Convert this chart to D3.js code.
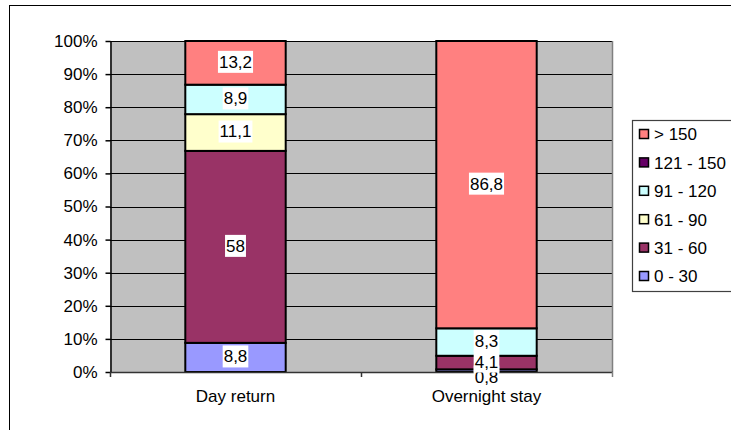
<!DOCTYPE html>
<html>
<head>
<meta charset="utf-8">
<script src="https://cdn.jsdelivr.net/npm/d3@7"></script>
<style>
  html, body { margin: 0; padding: 0; background: #fff; }
  svg { display: block; font-family: "Liberation Sans", Arial, sans-serif; }
</style>
</head>
<body>
<svg id="chart" width="731" height="430"></svg>
<script>
// Trip categories and duration classes (minutes)
const categories = ["Day return", "Overnight stay"];
const seriesNames = ["0 - 30", "31 - 60", "61 - 90", "91 - 120", "121 - 150", "> 150"];
const seriesColors = ["#9999FF", "#993366", "#FFFFCC", "#CCFFFF", "#660066", "#FF8080"];

// Share of trips per duration class (%)
const dayReturn     = [8.8, 58, 11.1, 8.9, 0, 13.2];
const overnightStay = [0.8, 4.1, 0, 8.3, 0, 86.8];

const yTickValues = [0, 10, 20, 30, 40, 50, 60, 70, 80, 90, 100];
const yTickLabels = ["0%", "10%", "20%", "30%", "40%", "50%", "60%", "70%", "80%", "90%", "100%"];

const rows = [dayReturn, overnightStay].map((vals, i) => {
  const r = { category: categories[i] };
  seriesNames.forEach((s, j) => { r[s] = vals[j]; });
  return r;
});

const svg = d3.select("#chart");
const plot = { left: 110, right: 612, top: 41, bottom: 372 };
const fontSize = 17;

// outer chart frame
svg.append("rect")
  .attr("x", 9.5).attr("y", 5.5)
  .attr("width", 900).attr("height", 600)
  .attr("fill", "#fff").attr("stroke", "#000").attr("stroke-width", 1);

const x = d3.scaleBand()
  .domain(categories)
  .range([plot.left, plot.right])
  .paddingInner(0.6)
  .paddingOuter(0.3);

const y = d3.scaleLinear()
  .domain([0, 100])
  .range([plot.bottom, plot.top]);

// plot area background
svg.append("rect")
  .attr("x", plot.left).attr("y", plot.top)
  .attr("width", plot.right - plot.left).attr("height", plot.bottom - plot.top)
  .attr("fill", "#C0C0C0");

// horizontal gridlines
svg.append("g").selectAll("line")
  .data(yTickValues.filter(v => v > 0))
  .join("line")
  .attr("x1", plot.left).attr("x2", plot.right)
  .attr("y1", d => Math.round(y(d)) + 0.5).attr("y2", d => Math.round(y(d)) + 0.5)
  .attr("stroke", "#000").attr("stroke-width", 1);

// right edge of plot area
svg.append("line")
  .attr("x1", plot.right + 0.5).attr("x2", plot.right + 0.5)
  .attr("y1", plot.top).attr("y2", plot.bottom)
  .attr("stroke", "#808080").attr("stroke-width", 1.5);

// stacked segments
const stack = d3.stack().keys(seriesNames);
const layers = stack(rows);

const barG = svg.append("g");
layers.forEach((layer, li) => {
  barG.append("g").selectAll("rect")
    .data(layer.filter(d => d.data[layer.key] > 0))
    .join("rect")
    .attr("x", d => x(d.data.category))
    .attr("width", x.bandwidth())
    .attr("y", d => y(d[1]))
    .attr("height", d => y(d[0]) - y(d[1]))
    .attr("fill", seriesColors[li])
    .attr("stroke", "#000")
    .attr("stroke-width", 2);
});

// left axis
const yAxis = d3.axisLeft(y)
  .tickValues(yTickValues)
  .tickFormat((d, i) => yTickLabels[i])
  .tickSize(5)
  .tickSizeOuter(0)
  .tickPadding(8);
const yAxisG = svg.append("g")
  .attr("transform", `translate(${plot.left + 0.5},0)`)
  .call(yAxis);
yAxisG.select(".domain").attr("stroke", "#000").attr("stroke-width", 1.5);
yAxisG.selectAll(".tick line").attr("stroke", "#000").attr("stroke-width", 1.5);
yAxisG.selectAll(".tick text")
  .attr("font-size", fontSize).attr("font-family", "Liberation Sans, Arial, sans-serif")
  .attr("fill", "#000");

// bottom axis with ticks between categories
svg.append("line")
  .attr("x1", plot.left).attr("x2", plot.right + 1)
  .attr("y1", plot.bottom + 0.5).attr("y2", plot.bottom + 0.5)
  .attr("stroke", "#333").attr("stroke-width", 1.5);
const catEdges = [plot.left, (x(categories[0]) + x.bandwidth() + x(categories[1])) / 2, plot.right];
svg.append("g").selectAll("line")
  .data(catEdges)
  .join("line")
  .attr("x1", d => d + 0.5).attr("x2", d => d + 0.5)
  .attr("y1", plot.bottom).attr("y2", plot.bottom + 5)
  .attr("stroke", (d, i) => i === 2 ? "#808080" : "#333").attr("stroke-width", 1.5);

svg.append("g").selectAll("text")
  .data(categories)
  .join("text")
  .attr("x", d => x(d) + x.bandwidth() / 2)
  .attr("y", 402)
  .attr("text-anchor", "middle")
  .attr("font-size", fontSize)
  .text(d => d);

// value labels on white boxes; crowded labels are nudged downward
const fmt = v => String(v).replace(".", ",");
const labels = [];
layers.forEach((layer, li) => {
  layer.forEach(d => {
    const v = d.data[layer.key];
    if (v > 0) {
      labels.push({ li, cat: d.data.category, value: v, cy: (y(d[0]) + y(d[1])) / 2 });
    }
  });
});
const minGap = 15;
categories.forEach(cat => {
  const ls = labels.filter(l => l.cat === cat).sort((a, b) => a.cy - b.cy);
  for (let i = 1; i < ls.length; i++) {
    if (ls[i].cy < ls[i - 1].cy + minGap) ls[i].cy = ls[i - 1].cy + minGap;
  }
});

const labelG = svg.append("g");
labels.forEach(l => {
  const g = labelG.append("g");
  const cx = x(l.cat) + x.bandwidth() / 2;
  const t = g.append("text")
    .attr("x", cx)
    .attr("y", l.cy - 1)
    .attr("dy", "0.35em")
    .attr("text-anchor", "middle")
    .attr("font-size", fontSize)
    .text(fmt(l.value));
  const w = t.node().getComputedTextLength() + 2;
  g.insert("rect", "text")
    .attr("x", cx - w / 2)
    .attr("y", l.cy - 1 - 11)
    .attr("width", w)
    .attr("height", 22)
    .attr("fill", "#fff");
});

// legend (top entry = top of stack)
const legend = svg.append("g");
legend.append("rect")
  .attr("x", 632.5).attr("y", 120.5)
  .attr("width", 120).attr("height", 171)
  .attr("fill", "#fff").attr("stroke", "#404040").attr("stroke-width", 1.2);
const legendOrder = seriesNames.map((s, i) => i).reverse();
legendOrder.forEach((si, k) => {
  const cy = 134.5 + k * 28.4;
  legend.append("rect")
    .attr("x", 639.5).attr("y", cy - 5)
    .attr("width", 9).attr("height", 9)
    .attr("fill", seriesColors[si])
    .attr("stroke", "#000").attr("stroke-width", 1.5);
  legend.append("text")
    .attr("x", 654).attr("y", cy)
    .attr("dy", "0.35em")
    .attr("font-size", fontSize)
    .text(seriesNames[si]);
});
</script>
</body>
</html>
